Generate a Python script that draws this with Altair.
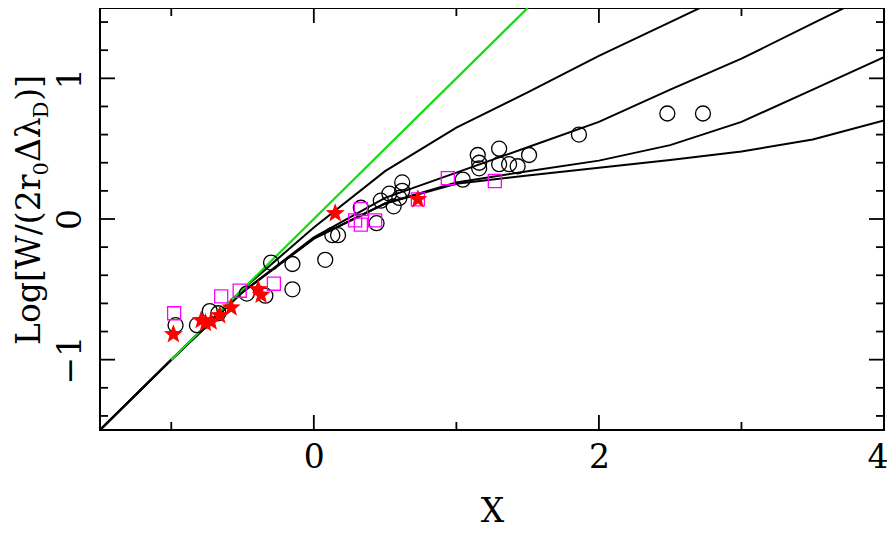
import math
import altair as alt
import pandas as pd

# ---- model curves (curve-of-growth) ----
curve_x = [-1.5, -1.0, -0.5, 0.0, 0.5, 1.0, 1.5, 2.0, 2.5, 3.0, 3.5, 4.0]
curve1_y = [-1.5, -1.0, -0.50, -0.06, 0.34, 0.65, 0.90, 1.16, 1.40, 1.64, 1.88, 2.10]
curve2_y = [-1.5, -1.0, -0.52, -0.13, 0.15, 0.33, 0.51, 0.69, 0.92, 1.14, 1.39, 1.64]
curve3_y = [-1.5, -1.0, -0.52, -0.14, 0.11, 0.26, 0.34, 0.415, 0.525, 0.69, 0.92, 1.15]
curve4_y = [-1.5, -1.0, -0.52, -0.14, 0.11, 0.25, 0.31, 0.365, 0.42, 0.48, 0.565, 0.70]

green_x = [-1.0, 1.5]
green_y = [-1.0, 1.5]

# ---- observations ----
circ_x = [-0.97, -0.82, -0.73, -0.67, -0.47, -0.34, -0.30, -0.15, -0.15, 0.08, 0.13, 0.17,
          0.33, 0.44, 0.47, 0.53, 0.56, 0.60, 0.62, 0.62, 1.045, 1.15, 1.16, 1.16, 1.30,
          1.30, 1.37, 1.43, 1.51, 1.86, 2.48, 2.73]
circ_y = [-0.755, -0.755, -0.655, -0.67, -0.53, -0.545, -0.31, -0.32, -0.50, -0.29, -0.115, -0.115,
          0.08, -0.03, 0.13, 0.18, 0.09, 0.15, 0.26, 0.20, 0.28, 0.455, 0.40, 0.36, 0.50,
          0.39, 0.39, 0.375, 0.455, 0.60, 0.75, 0.75]

sq_x = [-0.98, -0.65, -0.52, -0.28, 0.33, 0.29, 0.33, 0.43, 0.73, 0.94, 1.27]
sq_y = [-0.67, -0.55, -0.51, -0.46, 0.07, -0.01, -0.04, -0.01, 0.14, 0.29, 0.27]

star_x = [-0.985, -0.79, -0.76, -0.72, -0.66, -0.58, -0.39, -0.37, 0.15, 0.73]
star_y = [-0.82, -0.72, -0.74, -0.73, -0.685, -0.63, -0.50, -0.54, 0.04, 0.14]

# ---- axis ticks ----
x_tick_labels = [0, 2, 4]
y_tick_labels = [-1, 0, 1]
x_major_ticks = [0.0, 2.0]
x_minor_ticks = [-1.0, 1.0, 3.0]
y_major_ticks = [-1.0, 0.0, 1.0]
y_minor_ticks = [-1.4, -1.2, -0.8, -0.6, -0.4, -0.2, 0.2, 0.4, 0.6, 0.8, 1.2, 1.4]

X_MIN, X_MAX = -1.5, 4.0
Y_MIN, Y_MAX = -1.5, 1.5
W, H = 784, 422
FONT = "DejaVu Serif"
FS = 33

# five-pointed star symbol path (unit coordinates)
pts = []
for k in range(10):
    ang = math.radians(-90 + 36 * k)
    r = 1.0 if k % 2 == 0 else 0.42
    pts.append(f"{r * math.cos(ang):.3f},{r * math.sin(ang):.3f}")
STAR = "M" + " L".join(pts) + " Z"

xs = alt.Scale(domain=[X_MIN, X_MAX], nice=False, zero=False)
ys = alt.Scale(domain=[Y_MIN, Y_MAX], nice=False, zero=False)

x_axis = alt.Axis(orient="bottom", values=x_tick_labels, format="d", title="X", ticks=False,
                  tickSize=0, domain=False, grid=False,
                  labelFont=FONT, labelFontSize=FS, labelPadding=11,
                  labelFlush=True, labelFlushOffset=4, labelColor="black",
                  titleFont=FONT, titleFontSize=FS,
                  titleFontWeight="normal", titleColor="black", titlePadding=21)
y_axis = alt.Axis(orient="left", values=y_tick_labels, format="d", title=None, ticks=False,
                  tickSize=0, domain=False, grid=False,
                  labelFont=FONT, labelFontSize=FS, labelAngle=270,
                  labelAlign="center", labelBaseline="alphabetic", labelPadding=20,
                  labelFlush=False, labelColor="black")

rows = []
for name, vals in [("c1", curve1_y), ("c2", curve2_y), ("c3", curve3_y), ("c4", curve4_y)]:
    for xv, yv in zip(curve_x, vals):
        rows.append({"curve": name, "x": xv, "y": yv})
curves_df = pd.DataFrame(rows)

lines = alt.Chart(curves_df).mark_line(clip=True, color="black", strokeWidth=2).encode(
    x=alt.X("x:Q", scale=xs, axis=x_axis),
    y=alt.Y("y:Q", scale=ys, axis=y_axis),
    detail="curve:N",
)

green = alt.Chart(pd.DataFrame({"x": green_x, "y": green_y})).mark_line(
    clip=True, color="#11dd11", strokeWidth=2.2).encode(x="x:Q", y="y:Q")

circles = alt.Chart(pd.DataFrame({"x": circ_x, "y": circ_y})).mark_point(
    shape="circle", filled=False, color="black", size=225, strokeWidth=1.3, opacity=1).encode(
    x="x:Q", y="y:Q")

squares = alt.Chart(pd.DataFrame({"x": sq_x, "y": sq_y})).mark_point(
    shape="square", filled=False, color="#ff00ff", size=170, strokeWidth=1.3, opacity=1).encode(
    x="x:Q", y="y:Q")

stars = alt.Chart(pd.DataFrame({"x": star_x, "y": star_y})).mark_point(
    shape=STAR, filled=True, color="#ff0000", size=400, opacity=1, strokeWidth=0).encode(
    x="x:Q", y="y:Q")

# inward frame ticks drawn as line-shaped symbols anchored on the frame
# (custom symbol path spans [-1, 1] scaled by sqrt(size)/2 -> 0..2 gives length sqrt(size))
PATH_DOWN = "M0,0 L0,2"
PATH_UP = "M0,0 L0,-2"
PATH_RIGHT = "M0,0 L2,0"
PATH_LEFT = "M0,0 L-2,0"


def tick_layer(xv, yv, path, length):
    d = pd.DataFrame({"x": xv, "y": yv})
    return alt.Chart(d).mark_point(
        shape=path, filled=False, color="black", strokeWidth=1.8, size=length * length,
        opacity=1).encode(x="x:Q", y="y:Q")


tick_layers = []
for vals, length in ((x_major_ticks, 15), (x_minor_ticks, 8)):
    tick_layers.append(tick_layer(vals, [Y_MAX] * len(vals), PATH_DOWN, length))
    tick_layers.append(tick_layer(vals, [Y_MIN] * len(vals), PATH_UP, length))
for vals, length in ((y_major_ticks, 15), (y_minor_ticks, 8)):
    tick_layers.append(tick_layer([X_MIN] * len(vals), vals, PATH_RIGHT, length))
    tick_layers.append(tick_layer([X_MAX] * len(vals), vals, PATH_LEFT, length))

# ---- y-axis title with subscripts (rotated pieces) ----
TFS = 33
SFS = 21
# approximate advance widths (em) for DejaVu Serif
em = {"L": 0.637, "o": 0.602, "g": 0.640, "[": 0.390, "W": 1.030, "/": 0.337, "(": 0.390,
      "2": 0.636, "r": 0.478, "0": 0.636, "Δ": 0.720, "λ": 0.610, "D": 0.830, ")": 0.390,
      "]": 0.390}
title_x = -60
title_y0 = 337
pieces = [("Log[W/(2r", TFS, 0), ("0", SFS, 8), ("Δλ", TFS, 0), ("D", SFS, 8), (")]", TFS, 0)]
title_layers = []
pos = 0.0
for txt, fs, shift in pieces:
    title_layers.append(
        alt.Chart(pd.DataFrame({"t": [txt]})).mark_text(
            font=FONT, fontSize=fs, angle=270, align="left",
            baseline="alphabetic", color="black").encode(
            text="t:N", x=alt.value(title_x + shift), y=alt.value(title_y0 - pos)))
    pos += sum(em[c] for c in txt) * fs

chart = alt.layer(lines, green, circles, squares, stars, *tick_layers, *title_layers).properties(
    width=W, height=H,
    autosize=alt.AutoSizeParams(type="none"),
    padding={"left": 92, "top": 0, "right": 4, "bottom": 101},
    background="white",
).configure_view(stroke="black", strokeWidth=2)

chart.save("out.html", embed_options={"renderer": "svg", "actions": False})
